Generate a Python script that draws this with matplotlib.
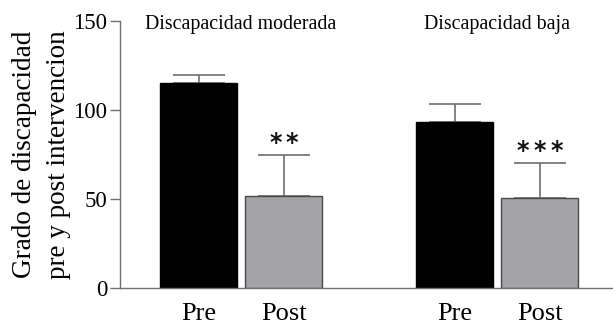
import matplotlib
matplotlib.use("Agg")
import matplotlib.pyplot as plt

groups = ["Discapacidad moderada", "Discapacidad baja"]
tick_labels = ["Pre", "Post", "Pre", "Post"]
means = [115.0, 51.5, 93.0, 50.5]
errors = [4.5, 23.5, 10.5, 20.0]
stars = ["", "**", "", "***"]

plt.rcParams['font.family'] = ['Liberation Serif', 'DejaVu Serif']

fig = plt.figure(figsize=(6.13, 3.28), dpi=100)
ax = fig.add_axes([120/613, 1-288/328, 1-120/613, (288-21)/328])

pos = [0, 1.104, 3.325, 4.429]
colors = ["black", "#a3a2a7", "black", "#a3a2a7"]
edges = ["black", "#4a4a4a", "black", "#4a4a4a"]
for p, m, e, c, ec in zip(pos, means, errors, colors, edges):
    ax.bar(p, m, width=1.0, color=c, edgecolor=ec, linewidth=1.0, zorder=2)
    ax.errorbar(p, m, yerr=[[0], [e]], fmt='none', ecolor="#6e6e6e",
                elinewidth=1.2, capsize=19, capthick=1.2, zorder=1)
for p, m, e, s in zip(pos, means, errors, stars):
    n = len(s)
    for i, ch in enumerate(s):
        dx = (i - (n - 1) / 2) * 16.7
        ax.annotate(ch, xy=(p, m + e), xytext=(dx, 5), textcoords='offset pixels',
                    ha='center', va='baseline', fontsize=17,
                    family=['DejaVu Sans'], fontweight='bold', color='#111111')

gcent = [(pos[0]+pos[1])/2, (pos[2]+pos[3])/2]
for g, c in zip(groups, gcent):
    ax.text(c, 148, g, ha='center', va='center', fontsize=14.3)

ax.set_xlim(-1.02, 5.38)
ax.set_ylim(0, 150)
ax.set_yticks([0, 50, 100, 150])
ax.set_xticks(pos)
ax.set_xticklabels(tick_labels, fontsize=19)
ax.tick_params(axis='x', length=0, pad=11)
ax.tick_params(axis='y', labelsize=16.5, length=7, width=1, color='#707070', direction='out', pad=2)
for sp in ['top', 'right']:
    ax.spines[sp].set_visible(False)
for sp in ['left', 'bottom']:
    ax.spines[sp].set_color('#707070')
    ax.spines[sp].set_linewidth(1.0)
ax.set_ylabel("Grado de discapacidad\npre y post intervencion", fontsize=19.5, linespacing=1.5, labelpad=1.5)

fig.savefig("out.png", dpi=100)
